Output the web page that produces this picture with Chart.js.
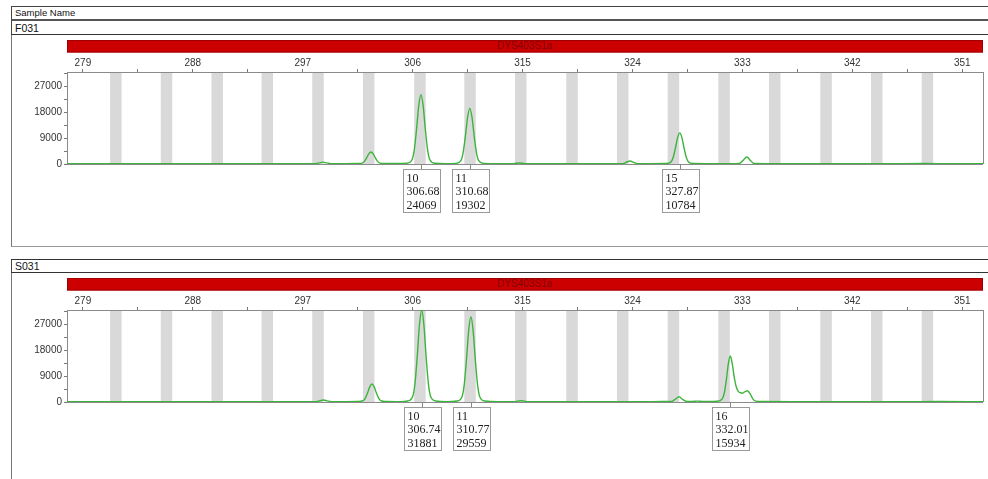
<!DOCTYPE html>
<html>
<head>
<meta charset="utf-8">
<script src="https://cdn.jsdelivr.net/npm/chart.js@4.4.0/dist/chart.umd.min.js"></script>
<style>
  html, body { margin: 0; padding: 0; background: #fff; }
  #page { position: relative; width: 988px; height: 479px; overflow: hidden;
          font-family: Arial, "Liberation Sans", sans-serif; color: #111; }
  .box { position: absolute; left: 11px; width: 1000px; box-sizing: border-box; }
  #hdr { top: 6px; height: 15px; border-top: 1px solid #444; border-left: 1px solid #444;
         border-bottom: 2px solid #555; font-size: 9.5px; line-height: 12px; padding-left: 3px; }
  #row1 { top: 21px; height: 14px; border-left: 1px solid #444; border-bottom: 1px solid #333;
          font-size: 10.5px; line-height: 14px; padding-left: 3px; }
  #frame1 { top: 35px; height: 212px; border-left: 1px solid #777; border-bottom: 1px solid #999; }
  #row2 { top: 259px; height: 14px; border-top: 1px solid #333; border-left: 1px solid #444;
          border-bottom: 1px solid #333; font-size: 10.5px; line-height: 13px; padding-left: 3px; }
  #frame2 { top: 273px; height: 220px; border-left: 1px solid #777; }
  .plot { position: absolute; left: 12px; }
  #wrap1 { top: 35px; width: 976px; height: 211px; }
  #wrap2 { top: 273px; width: 976px; height: 206px; }
</style>
</head>
<body>
<div id="page">
  <div class="box" id="hdr">Sample Name</div>
  <div class="box" id="row1"></div>
  <div class="box" id="frame1"></div>
  <div class="box" id="row2"></div>
  <div class="box" id="frame2"></div>
  <div class="plot" id="wrap1"><canvas id="c1" width="976" height="211"></canvas></div>
  <div class="plot" id="wrap2"><canvas id="c2" width="976" height="206"></canvas></div>
</div>
<script>
// Samples and marker
const sampleNames = ['F031', 'S031'];
const markerName = 'DYS403S1a';

// Axis tick labels (size in bp, height in RFU)
const xTickLabels = [279, 288, 297, 306, 315, 324, 333, 342, 351];
const yTickLabels = [0, 9000, 18000, 27000];

// Allele bin centres (bp)
const binCenters = [281.7, 285.85, 290.0, 294.1, 298.25, 302.4, 306.6, 310.7, 314.85,
                    319.05, 323.2, 327.35, 331.5, 335.65, 339.85, 344.0, 348.15];

// F031 trace: size (bp) and height (RFU)
const f031Bp = [
  277.7, 279.5, 283, 287, 291, 294, 296.5,
  298.05, 298.35, 298.65, 298.95, 299.3,
  300.5,
  301.44, 301.87, 302.05, 302.23, 302.41, 302.59, 302.77, 302.95, 303.13, 303.31, 303.74,
  305.53, 305.96, 306.14, 306.32, 306.50, 306.68, 306.86, 307.04, 307.22, 307.40, 307.83,
  308.7,
  309.53, 309.96, 310.14, 310.32, 310.50, 310.68, 310.86, 311.04, 311.22, 311.40, 311.83,
  313,
  314.2, 314.45, 314.72, 315.0, 315.3,
  316.5, 319, 321.5,
  323.2, 323.5, 323.8, 324.1, 324.4,
  325.5,
  326.72, 327.15, 327.33, 327.51, 327.69, 327.87, 328.05, 328.23, 328.41, 328.59, 329.02,
  330.5, 332.5,
  332.75, 333.06, 333.36, 333.66, 333.96,
  336, 340, 344, 348, 350, 352.7
];
const f031Rfu = [
  100, 120, 90, 130, 100, 120, 110,
  120, 400, 650, 380, 130,
  110,
  150, 300, 900, 2100, 3490, 4150, 3490, 2100, 900, 300, 150,
  260, 1565, 5054, 12035, 20218, 24069, 20218, 12035, 5054, 1565, 260,
  120,
  210, 1255, 4053, 9651, 16214, 19302, 16214, 9651, 4053, 1255, 210,
  110,
  120, 250, 350, 240, 110,
  100, 130, 100,
  130, 600, 1050, 580, 140,
  100,
  150, 700, 2265, 5392, 9059, 10784, 9059, 5392, 2265, 700, 150,
  100, 110,
  150, 1250, 2450, 1225, 160,
  100, 120, 90, 180, 100, 110
];

// S031 trace: size (bp) and height (RFU)
const s031Bp = [
  277.7, 280, 284, 288, 292, 295, 297,
  298.1, 298.4, 298.7, 299.0, 299.35,
  300.6,
  301.52, 301.95, 302.13, 302.31, 302.49, 302.67, 302.85, 303.03, 303.21, 303.39, 303.82,
  305,
  305.59, 306.02, 306.20, 306.38, 306.56, 306.74, 306.92, 307.10, 307.28, 307.46, 307.89,
  308.8,
  309.62, 310.05, 310.23, 310.41, 310.59, 310.77, 310.95, 311.13, 311.31, 311.49, 311.92,
  313,
  314.3, 314.6, 314.87, 315.15, 315.5,
  317, 320, 323, 325, 326.5,
  327.2, 327.5, 327.81, 328.1, 328.45,
  328.9, 329.3, 329.7,
  330.4,
  330.9, 331.35, 331.52, 331.69, 331.85, 332.01, 332.17, 332.33, 332.5, 332.68, 332.85,
  332.98, 333.18, 333.4, 333.65, 333.85, 334.1, 334.6,
  338, 342, 346, 349, 352.7
];
const s031Rfu = [
  100, 110, 90, 130, 100, 120, 110,
  120, 420, 700, 400, 130,
  120,
  150, 450, 1350, 3115, 5233, 6230, 5233, 3115, 1350, 450, 150,
  130,
  350, 2072, 6695, 15941, 26780, 31881, 26780, 15941, 6695, 2072, 350,
  140,
  330, 1921, 6207, 14780, 24830, 29559, 24830, 14780, 6207, 1921, 330,
  130,
  130, 320, 450, 300, 120,
  100, 120, 100, 110, 150,
  170, 950, 1830, 900, 200,
  200, 300, 200,
  180,
  250, 1100, 3150, 7760, 13300, 15934, 13300, 8600, 5200, 3600, 3200,
  3050, 3500, 3900, 2700, 1100, 300, 150,
  100, 120, 100, 150, 110
];

// Allele calls: allele, size (bp), height (RFU)
const f031Alleles = ['10', '11', '15'];
const f031Sizes = [306.68, 310.68, 327.87];
const f031Heights = [24069, 19302, 10784];
const s031Alleles = ['10', '11', '16'];
const s031Sizes = [306.74, 310.77, 332.01];
const s031Heights = [31881, 29559, 15934];

// ---- drawing ----
const X_MIN = 277.7, X_MAX = 352.7, Y_MAX = 31900;
const BIN_HALF = 0.47;
const TRACE = '#3cb43c';
const AXIS = '#8a8a8a';

document.getElementById('row1').textContent = sampleNames[0];
document.getElementById('row2').textContent = sampleNames[1];

// major ticks plus a minor tick halfway to the next one
function withMinor(majors, step, limit) {
  const out = [];
  majors.forEach(v => {
    out.push(v);
    out.push(v + step / 2);
  });
  return out.filter(v => v <= limit);
}
const xTicks = withMinor(xTickLabels, 9, 351);
const yTicks = withMinor(yTickLabels, 9000, Y_MAX);

const binPlugin = {
  id: 'bins',
  beforeDraw(chart) {
    const { ctx, chartArea: a, scales: { x } } = chart;
    ctx.save();
    ctx.fillStyle = '#d9d9d9';
    binCenters.forEach(c => {
      const l = x.getPixelForValue(c - BIN_HALF);
      const r = x.getPixelForValue(c + BIN_HALF);
      ctx.fillRect(l, a.top, r - l, a.bottom - a.top);
    });
    ctx.restore();
  }
};

const framePlugin = {
  id: 'frame',
  beforeDatasetsDraw(chart) {
    const { ctx, chartArea: a } = chart;
    ctx.save();
    ctx.strokeStyle = AXIS;
    ctx.lineWidth = 1;
    ctx.beginPath();
    ctx.moveTo(Math.round(a.right) + 0.5, a.top);
    ctx.lineTo(Math.round(a.right) + 0.5, a.bottom);
    ctx.moveTo(a.left, Math.round(a.bottom) + 0.5);
    ctx.lineTo(a.right, Math.round(a.bottom) + 0.5);
    ctx.stroke();
    ctx.restore();
  }
};

const markerPlugin = {
  id: 'marker',
  afterDraw(chart) {
    const { ctx, chartArea: a } = chart;
    ctx.save();
    ctx.fillStyle = '#cc0000';
    ctx.fillRect(a.left, 5, a.right - a.left, 12.5);
    ctx.strokeStyle = '#a00000';
    ctx.strokeRect(a.left + 0.5, 5.5, a.right - a.left - 1, 11.5);
    ctx.fillStyle = '#7a0505';
    ctx.font = '10px Arial, "Liberation Sans", sans-serif';
    ctx.textAlign = 'center';
    ctx.textBaseline = 'middle';
    ctx.fillText(markerName, (a.left + a.right) / 2, 11.5);
    ctx.restore();
  }
};

function callPlugin(alleles, sizes, heights) {
  return {
    id: 'calls',
    afterDraw(chart) {
      const { ctx, scales: { x, y } } = chart;
      const base = y.getPixelForValue(0);
      ctx.save();
      alleles.forEach((al, i) => {
        const px = Math.round(x.getPixelForValue(sizes[i])) + 0.5;
        const top = Math.round(base + 5) + 0.5;
        const left = Math.round(px - 18.5) + 0.5;
        ctx.strokeStyle = '#888';
        ctx.lineWidth = 1;
        ctx.beginPath();
        ctx.moveTo(px, base);
        ctx.lineTo(px, top);
        ctx.stroke();
        ctx.fillStyle = '#fff';
        ctx.fillRect(left, top, 37, 43);
        ctx.strokeStyle = '#9a9a9a';
        ctx.strokeRect(left, top, 37, 43);
        ctx.fillStyle = '#222';
        ctx.font = '12px "Liberation Serif", "Times New Roman", serif';
        ctx.textAlign = 'left';
        ctx.textBaseline = 'middle';
        [al, sizes[i].toFixed(2), String(heights[i])].forEach((t, k) => {
          ctx.fillText(t, left + 3, top + 9.5 + k * 13.3);
        });
      });
      ctx.restore();
    }
  };
}

function makePanel(id, bp, rfu, alleles, sizes, heights, bottomPad) {
  const pts = bp.map((b, i) => ({ x: b, y: rfu[i] }));
  return new Chart(document.getElementById(id), {
    type: 'line',
    data: {
      datasets: [{
        data: pts,
        borderColor: TRACE,
        borderWidth: 1.4,
        pointRadius: 0,
        fill: false,
        cubicInterpolationMode: 'monotone'
      }]
    },
    options: {
      responsive: false,
      animation: false,
      devicePixelRatio: 1,
      events: [],
      layout: { padding: { left: 0, right: 5, top: 0, bottom: bottomPad } },
      plugins: { legend: { display: false }, tooltip: { enabled: false } },
      scales: {
        x: {
          type: 'linear',
          position: 'top',
          min: X_MIN,
          max: X_MAX,
          afterBuildTicks: s => { s.ticks = xTicks.map(v => ({ value: v })); },
          afterFit: s => { s.height = 37; },
          ticks: {
            autoSkip: false,
            maxRotation: 0,
            padding: 0,
            color: '#333',
            font: { family: 'Arial, "Liberation Sans", sans-serif', size: 10 },
            callback: v => xTickLabels.includes(v) ? String(v) : ''
          },
          grid: { drawOnChartArea: false, drawTicks: true, tickLength: 3, color: '#777' },
          border: { color: AXIS, width: 1 }
        },
        y: {
          min: 0,
          max: Y_MAX,
          afterBuildTicks: s => { s.ticks = yTicks.map(v => ({ value: v })); },
          afterFit: s => { s.width = 55; },
          ticks: {
            autoSkip: false,
            padding: 2,
            color: '#333',
            font: { family: 'Arial, "Liberation Sans", sans-serif', size: 10 },
            callback: v => yTickLabels.includes(v) ? String(v) : ''
          },
          grid: { drawOnChartArea: false, drawTicks: true, tickLength: 3, color: '#777' },
          border: { color: AXIS, width: 1 }
        }
      }
    },
    plugins: [binPlugin, framePlugin, markerPlugin, callPlugin(alleles, sizes, heights)]
  });
}

makePanel('c1', f031Bp, f031Rfu, f031Alleles, f031Sizes, f031Heights, 82);
makePanel('c2', s031Bp, s031Rfu, s031Alleles, s031Sizes, s031Heights, 77);
</script>
</body>
</html>
